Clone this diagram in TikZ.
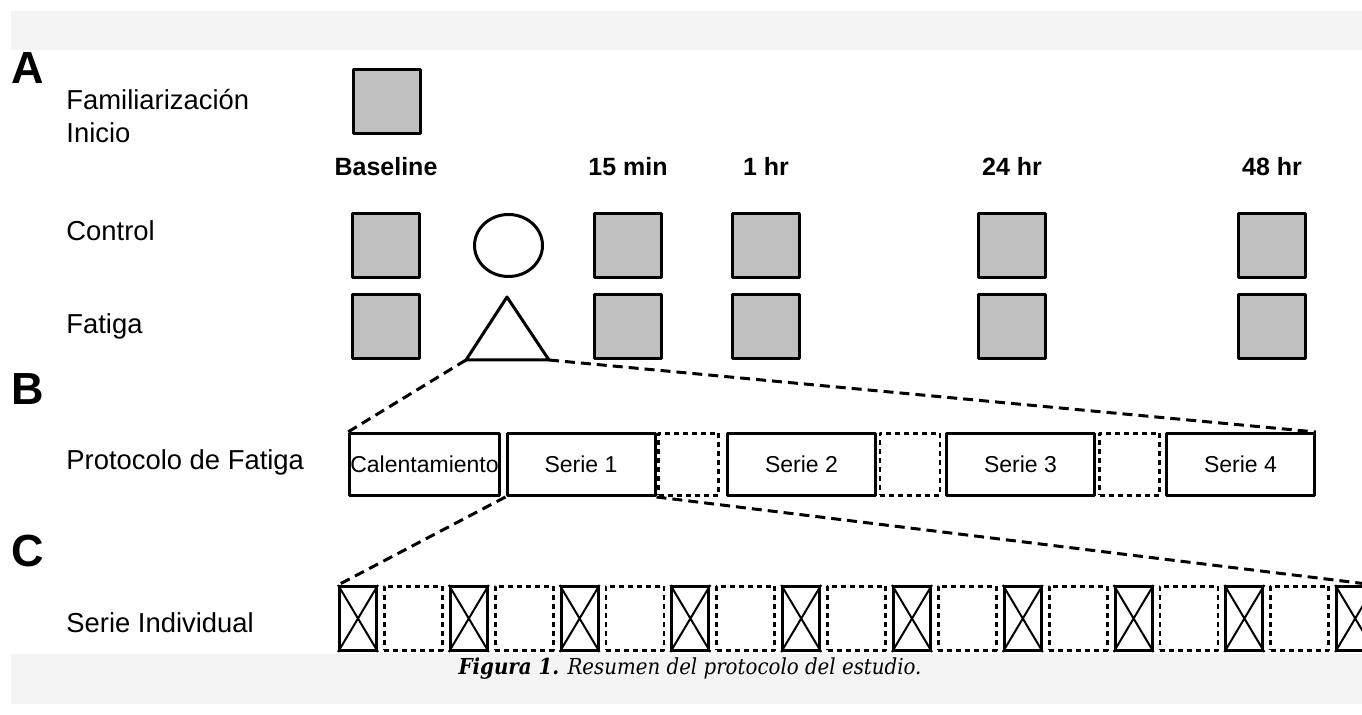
\documentclass[tikz,border=0pt]{standalone}
\usepackage{fontspec}
\setmainfont{Liberation Sans}
\newfontfamily\capfont{DejaVu Serif Condensed}
\usetikzlibrary{shapes.geometric}
\definecolor{boxgray}{HTML}{C0C0C0}
\definecolor{bandgray}{HTML}{F4F4F4}

\begin{document}
\begin{tikzpicture}[x=0.5pt,y=-0.5pt, line join=round,
		lett/.style={anchor=base west,inner sep=0,font=\fontsize{22.5}{26}\selectfont\bfseries},
		rowlab/.style={anchor=base west,inner sep=0,font=\fontsize{13.7}{16.5}\selectfont},
		hdr/.style={anchor=base,inner sep=0,font=\fontsize{12.5}{15}\selectfont\bfseries},
		sq/.style={draw,fill=boxgray,line width=1.5pt,minimum width=33.5pt,minimum height=32pt,inner sep=0},
		bx/.style={draw,line width=1.5pt,minimum height=31pt,inner sep=0,font=\fontsize{11.5}{13}\selectfont},
		gapbox/.style={draw,dash pattern=on 2.5pt off 2pt,line width=1.4pt,inner sep=0},
		xbox/.style={draw,line width=1.5pt,minimum width=18.5pt,minimum height=32pt,inner sep=0},
		conn/.style={dash pattern=on 5pt off 3pt,line width=1.5pt}]
	% page and grey bands
	\fill[white] (0,0) rectangle (1362,715);
	\fill[bandgray] (11,11) rectangle (1362,50);
	\fill[bandgray] (11,654) rectangle (1362,704);
	\clip (0,0) rectangle (1362,715);

	% panel letters and row labels
	\node[lett] (la) at (11,84) {A};
	\node[lett] (lb) at (11,405) {B};
	\node[lett] (lc) at (11,567) {C};
	\node[rowlab] (tfam) at (66,110) {Familiarización};
	\node[rowlab] (tini) at (66,143) {Inicio};
	\node[rowlab] (tcon) at (66,241) {Control};
	\node[rowlab] (tfat) at (66,334) {Fatiga};
	\node[rowlab] (tpro) at (66,470) {Protocolo de Fatiga};
	\node[rowlab] (tind) at (66,633) {Serie Individual};

	% A: time points
	\node[sq] (fam) at (387,101.5) {};
	\foreach \x/\n/\t in {386/b/Baseline,628/m15/15 min,766/h1/1 hr,1012/h24/24 hr,1272/h48/48 hr}{
		\node[hdr] (hd\n) at (\x,176) {\t};
		\node[sq] (c\n) at (\x,246) {};
		\node[sq] (f\n) at (\x,327) {};
	}
	\node[ellipse,draw,line width=1.5pt,minimum width=34pt,minimum height=31pt,inner sep=0] (circ) at (508.5,245.5) {};
	\coordinate (tril) at (466,360);
	\coordinate (trit) at (507,297);
	\coordinate (trir) at (549,360);
	\draw[line width=1.5pt] (tril) -- (trit) -- (trir) -- cycle;

	% B: fatigue protocol
	\node[bx,minimum width=75pt] (cal) at (424.5,464.5) {Calentamiento};
	\node[bx,minimum width=74pt] (s1) at (581,464.5) {Serie 1};
	\node[gapbox,minimum width=30pt,minimum height=31pt] (g1) at (688.5,464.5) {};
	\node[bx,minimum width=74pt] (s2) at (801.5,464.5) {Serie 2};
	\node[gapbox,minimum width=30pt,minimum height=31pt] (g2) at (910,464.5) {};
	\node[bx,minimum width=74pt] (s3) at (1020.5,464.5) {Serie 3};
	\node[gapbox,minimum width=30pt,minimum height=31pt] (g3) at (1129.5,464.5) {};
	\node[bx,minimum width=74pt] (s4) at (1240.5,464.5) {Serie 4};

	% C: single set
	\foreach \i in {0,...,9}{
		\node[xbox] (xb\i) at ({358+110.8*\i},618.5) {};
		\draw[line width=1pt] (xb\i.north west) -- (xb\i.south east) (xb\i.north east) -- (xb\i.south west);
	}
	\foreach \i in {0,...,8}
		\node[gapbox,minimum width=29pt,minimum height=32pt] (gc\i) at ({413.4+110.8*\i},618.5) {};

	% zoom lines
	\draw[conn] (tril) -- (cal.north west);
	\draw[conn] (trir) -- (s4.north east);
	\draw[conn] (s1.south west) -- (xb0.north west);
	\draw[conn] (s1.south east) -- (xb9.north east);

	\node[anchor=base,inner sep=0,font=\capfont\fontsize{11}{13}\selectfont] (cap) at (690,675)
		{\textbf{\textit{Figura 1.}} \textit{Resumen del protocolo del estudio.}};
\end{tikzpicture}
\end{document}
